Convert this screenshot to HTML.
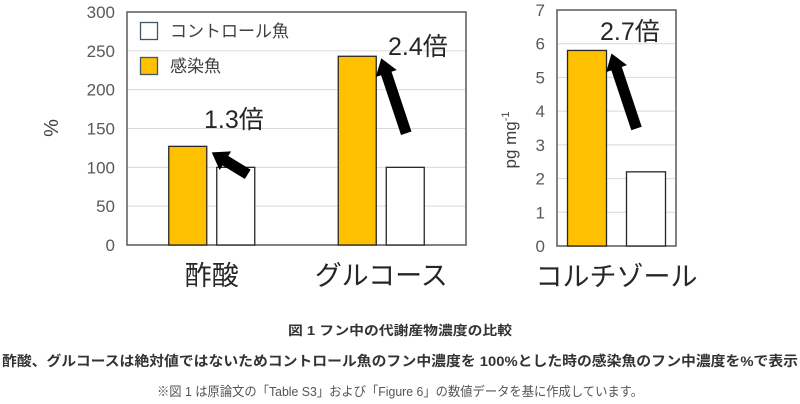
<!DOCTYPE html>
<html><head><meta charset="utf-8"><style>
html,body{margin:0;padding:0;background:#fff;}
svg{display:block;font-family:"Liberation Sans","Noto Sans CJK JP",sans-serif;}
</style></head><body>
<svg id="chart" width="800" height="404" viewBox="0 0 800 404" xmlns="http://www.w3.org/2000/svg">
<g id="left"></g>
<g id="right"></g>
<g>
<rect x="140.5" y="22.5" width="17" height="17" fill="#fff" stroke="#44546a" stroke-width="1.3"/>
<text x="170" y="37" font-size="17" fill="#404040">コントロール魚</text>
<rect x="140.5" y="57.5" width="17" height="17" fill="#ffc000" stroke="#44546a" stroke-width="1.3"/>
<text x="170" y="72" font-size="17" fill="#404040">感染魚</text>
</g>
<text transform="translate(58,128) rotate(-90)" text-anchor="middle" font-size="20" fill="#404040">%</text>
<text transform="translate(516,140) rotate(-90)" text-anchor="middle" font-size="17" fill="#404040">pg mg<tspan dy="-7" font-size="11">-1</tspan></text>
<g>
<text x="400" y="335" text-anchor="middle" font-size="13" font-weight="bold" fill="#333" textLength="224" lengthAdjust="spacingAndGlyphs">図 1 フン中の代謝産物濃度の比較</text>
<text x="400" y="366" text-anchor="middle" font-size="14" font-weight="bold" fill="#333" textLength="796" lengthAdjust="spacingAndGlyphs">酢酸、グルコースは絶対値ではないためコントロール魚のフン中濃度を 100%とした時の感染魚のフン中濃度を%で表示</text>
<text x="400" y="396" text-anchor="middle" font-size="13" fill="#555" textLength="486" lengthAdjust="spacingAndGlyphs">※図 1 は原論文の「Table S3」および「Figure 6」の数値データを基に作成しています。</text>
</g>
</svg>
<script>
const leftCategories = ["酢酸", "グルコース"];
const leftInfected = [127, 243];
const leftControl = [100, 100];
const leftTicks = [0, 50, 100, 150, 200, 250, 300];
const leftRatios = ["1.3倍", "2.4倍"];
const rightCategories = ["コルチゾール"];
const rightInfected = [5.8];
const rightControl = [2.2];
const rightTicks = [0, 1, 2, 3, 4, 5, 6, 7];
const rightRatios = ["2.7倍"];

const NS = "http://www.w3.org/2000/svg";
function mk(parent, tag, attrs, text) {
  const e = document.createElementNS(NS, tag);
  for (const k in attrs) e.setAttribute(k, attrs[k]);
  if (text !== undefined) e.textContent = text;
  parent.appendChild(e);
  return e;
}

function drawChart(g, cfg) {
  const { x0, x1, yTop, yBot, max, ticks, cats, inf, ctl, ratios, barW, groupW, gap, labelOffsets } = cfg;
  const y = v => yBot - (v / max) * (yBot - yTop);
  ticks.forEach(t => {
    if (t > 0 && t < max) {
      const l = mk(g, "line", { x1: x0, x2: x1, y1: y(t), y2: y(t), stroke: "#d9d9d9", "stroke-width": 1 });
      
      
    }
    const tx = mk(g, "text", { x: x0 - 12, y: y(t) + 6, "text-anchor": "end", "font-size": 17, fill: "#595959" }, String(t));
    
    
  });
  const frame = mk(g, "rect", { x: x0, y: yTop, width: x1 - x0, height: yBot - yTop, fill: "none", stroke: "#595959", "stroke-width": 1.5 });
  
  
  const band = (x1 - x0) / cats.length;
  cats.forEach((c, i) => {
    const cx = x0 + band * (i + 0.5);
    const xa = cx - gap / 2 - barW, xb = cx + gap / 2;
    const b1 = mk(g, "rect", { x: xa, y: y(inf[i]), width: barW, height: yBot - y(inf[i]), fill: "#ffc000", stroke: "#262626", "stroke-width": 1.3 });
    
    
    const b2 = mk(g, "rect", { x: xb, y: y(ctl[i]), width: barW, height: yBot - y(ctl[i]), fill: "#fff", stroke: "#262626", "stroke-width": 1.3 });
    
    
    const lab = mk(g, "text", { x: cx, y: yBot + 40, "text-anchor": "middle", "font-size": 27, fill: "#262626" }, c);
    
    
    // arrow from control top region toward infected top
    const o = labelOffsets[i];
    const tipX = xa + barW + 5, tipY = y(inf[i]) + o.tipDy;
    const tailX = tipX + o.dx, tailY = tipY + o.dy;
    const ang = Math.atan2(tipY - tailY, tipX - tailX);
    const len = Math.hypot(tipX - tailX, tipY - tailY);
    const ag = mk(g, "g", { transform: `translate(${tailX},${tailY}) rotate(${ang * 180 / Math.PI})` });
    
    
    const hl = 16, sw = 5.5, hw = 11;
    mk(ag, "polygon", { points: `0,${-sw} ${len - hl},${-sw} ${len - hl},${-hw} ${len},0 ${len - hl},${hw} ${len - hl},${sw} 0,${sw}`, fill: "#000" });
    const rt = mk(g, "text", { x: o.lx, y: o.ly, "font-size": 25, fill: "#262626" }, ratios[i]);
    
    
  });
}

drawChart(document.getElementById("left"), {
  x0: 127, x1: 466, yTop: 12, yBot: 245, max: 300, ticks: leftTicks,
  cats: leftCategories, inf: leftInfected, ctl: leftControl, ratios: leftRatios,
  barW: 38, gap: 10,
  labelOffsets: [
    { tipDy: 6, dx: 36, dy: 22, lx: 204, ly: 128 },
    { tipDy: 2, dx: 25, dy: 75, lx: 388, ly: 55 }
  ]
});
drawChart(document.getElementById("right"), {
  x0: 557, x1: 676, yTop: 10, yBot: 246, max: 7, ticks: rightTicks,
  cats: rightCategories, inf: rightInfected, ctl: rightControl, ratios: rightRatios,
  barW: 39, gap: 20,
  labelOffsets: [
    { tipDy: 3, dx: 25, dy: 75, lx: 600, ly: 40 }
  ]
});
</script>
</body></html>
